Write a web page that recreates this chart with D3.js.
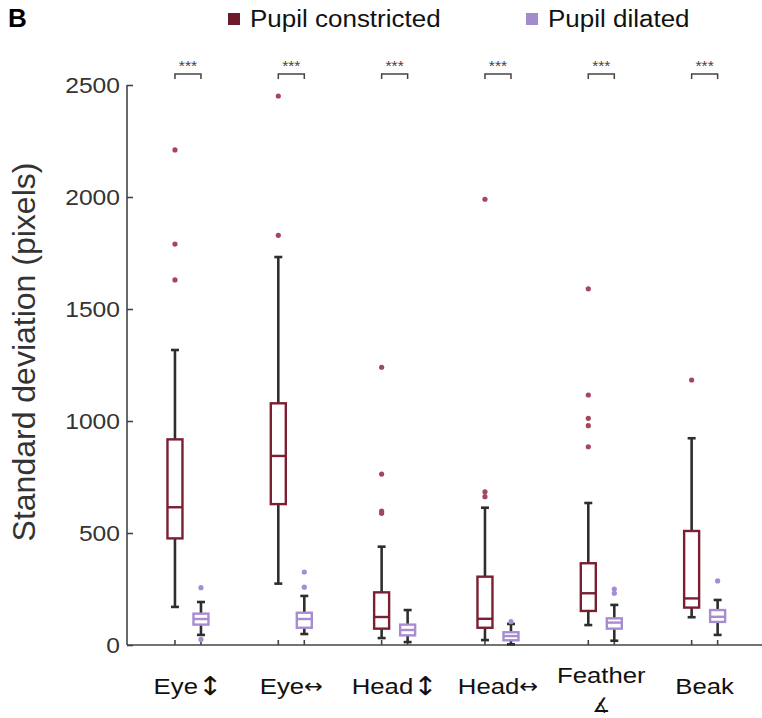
<!DOCTYPE html>
<html>
<head>
<meta charset="utf-8">
<script src="https://cdn.jsdelivr.net/npm/d3@7/dist/d3.min.js"></script>
<style>
  body { margin: 0; background: #fff; }
  svg { display: block; font-family: "Liberation Sans", Arial, sans-serif; }
</style>
</head>
<body>
<svg id="chart" width="762" height="718"></svg>
<script>
const categories = ["Eye↕", "Eye↔", "Head↕", "Head↔", "Feather", "Beak"];
const categoryWords = ["Eye", "Eye", "Head", "Head", "Feather", "Beak"];
const categorySymbols = ["↕", "↔", "↕", "↔", "∡", ""];
const seriesNames = ["Pupil constricted", "Pupil dilated"];
const yTicks = [0, 500, 1000, 1500, 2000, 2500];

// [lowerWhisker, q1, median, q3, upperWhisker]
const constrictedStats = [
  [170, 476, 615, 918, 1317],
  [274, 629, 844, 1079, 1732],
  [31, 73, 125, 235, 439],
  [22, 77, 117, 305, 613],
  [89, 152, 231, 365, 634],
  [124, 167, 208, 509, 923]
];
const constrictedOutliers = [
  [1630, 1790, 2210],
  [1829, 2451],
  [588, 598, 763, 1240],
  [662, 684, 1990],
  [885, 979, 1012, 1116, 1590],
  [1183]
];
const dilatedStats = [
  [45, 91, 116, 140, 192],
  [49, 77, 116, 144, 219],
  [13, 43, 67, 91, 156],
  [3, 21, 40, 57, 94],
  [19, 73, 100, 119, 179],
  [45, 103, 126, 156, 201]
];
const dilatedOutliers = [
  [25, 256],
  [258, 326],
  [],
  [104],
  [231, 250],
  [286]
];
const significance = ["***", "***", "***", "***", "***", "***"];

const svg = d3.select("#chart");
const x0 = 127, yTop = 85, yBot = 645;
const y = d3.scaleLinear().domain([0, 2500]).range([yBot, yTop]);
const xBand = d3.scaleBand().domain(categories).range([136.3, 756.3]).padding(0);
const xSub = d3.scalePoint().domain(seriesNames).range([-13, 13]);
const SX = 1.12; // horizontal stretch of the original figure's text

const colors = {
  "Pupil constricted": { box: "#7b1f32", dot: "#a3475a", legend: "#6f1a2a" },
  "Pupil dilated": { box: "#a88cd2", dot: "#a68cd4", legend: "#a48ccc" }
};
const whiskerColor = "#2e2e2e";
const textColor = "#333";

// Axes
const yAxis = d3.axisLeft(y).tickValues(yTicks).tickSize(-6).tickPadding(0).tickFormat(d3.format("d"));
const gy = svg.append("g").attr("transform", `translate(${x0},0)`).call(yAxis);
gy.select(".domain").attr("stroke", "#444").attr("stroke-width", 1.6).attr("d", `M0,${yTop}V${yBot}`);
gy.selectAll(".tick line").attr("stroke", "#444").attr("stroke-width", 1.6);
gy.selectAll(".tick text").attr("fill", textColor).style("font-size", "22px")
  .attr("x", null).attr("dy", "0.36em")
  .attr("transform", `translate(-7,0) scale(${SX},1)`);

// x axis line with ticks at each box position
const positions = [];
categories.forEach(c => seriesNames.forEach(s => positions.push(xBand(c) + xBand.bandwidth() / 2 + xSub(s))));
svg.append("line").attr("x1", x0).attr("x2", 762).attr("y1", yBot).attr("y2", yBot)
  .attr("stroke", "#444").attr("stroke-width", 1.6);
svg.selectAll(".xtick").data(positions).enter().append("line")
  .attr("x1", d => d).attr("x2", d => d).attr("y1", yBot).attr("y2", yBot - 5)
  .attr("stroke", "#444").attr("stroke-width", 1.6);

// Boxes
const boxW = 15, capW = 8;
function drawSeries(name, stats, outliers) {
  const col = colors[name];
  categories.forEach((c, i) => {
    const cx = xBand(c) + xBand.bandwidth() / 2 + xSub(name);
    const [lw, q1, med, q3, uw] = stats[i];
    const g = svg.append("g");
    g.append("line").attr("x1", cx).attr("x2", cx).attr("y1", y(q3)).attr("y2", y(uw))
      .attr("stroke", whiskerColor).attr("stroke-width", 2.6);
    g.append("line").attr("x1", cx).attr("x2", cx).attr("y1", y(q1)).attr("y2", y(lw))
      .attr("stroke", whiskerColor).attr("stroke-width", 2.6);
    [lw, uw].forEach(v => g.append("line").attr("x1", cx - capW / 2).attr("x2", cx + capW / 2)
      .attr("y1", y(v)).attr("y2", y(v)).attr("stroke", whiskerColor).attr("stroke-width", 2.6));
    g.append("rect").attr("x", cx - boxW / 2).attr("width", boxW)
      .attr("y", y(q3)).attr("height", y(q1) - y(q3))
      .attr("fill", "#fff").attr("stroke", col.box).attr("stroke-width", 2.4);
    g.append("line").attr("x1", cx - boxW / 2).attr("x2", cx + boxW / 2)
      .attr("y1", y(med)).attr("y2", y(med)).attr("stroke", col.box).attr("stroke-width", 2.4);
    g.selectAll("circle").data(outliers[i]).enter().append("circle")
      .attr("cx", cx).attr("cy", d => y(d)).attr("r", 2.6).attr("fill", col.dot);
  });
}
drawSeries("Pupil constricted", constrictedStats, constrictedOutliers);
drawSeries("Pupil dilated", dilatedStats, dilatedOutliers);

// Significance brackets
categories.forEach((c, i) => {
  const a = xBand(c) + xBand.bandwidth() / 2 + xSub(seriesNames[0]);
  const b = xBand(c) + xBand.bandwidth() / 2 + xSub(seriesNames[1]);
  svg.append("path").attr("d", `M${a},79V74H${b}V79`).attr("fill", "none")
    .attr("stroke", "#444").attr("stroke-width", 1.5);
  svg.append("text").attr("transform", `translate(${(a + b) / 2},71) scale(${SX},1)`)
    .attr("text-anchor", "middle")
    .attr("fill", "#444").style("font-size", "14px").text(significance[i]);
});

// X labels
categories.forEach((c, i) => {
  const cx = xBand(c) + xBand.bandwidth() / 2;
  const word = categoryWords[i], sym = categorySymbols[i];
  if (sym === "∡") {
    svg.append("text").attr("transform", `translate(${cx},683) scale(${SX},1)`).attr("text-anchor", "middle")
      .attr("fill", "#111").style("font-size", "23px").text(word);
    svg.append("text").attr("transform", `translate(${cx},712)`).attr("text-anchor", "middle")
      .attr("fill", "#111").style("font-size", "20px").style("font-family", "DejaVu Sans").text(sym);
  } else {
    const t = svg.append("text").attr("transform", `translate(${cx},694) scale(${SX},1)`)
      .attr("text-anchor", "middle").attr("fill", "#111").style("font-size", "23px");
    t.append("tspan").text(word);
    if (sym) {
      t.append("tspan").style("font-family", "DejaVu Sans")
        .style("font-size", sym === "↕" ? "26px" : "20px").attr("dy", sym === "↕" ? "1" : "-1").text(sym);
    }
  }
});

// Y title
svg.append("text").attr("transform", `translate(35,352) rotate(-90)`)
  .attr("text-anchor", "middle").attr("fill", textColor).style("font-size", "32px")
  .text("Standard deviation (pixels)");

// Panel letter
svg.append("text").attr("x", 8).attr("y", 27).attr("fill", "#000")
  .style("font-size", "26px").style("font-weight", "bold").text("B");

// Legend
const legendX = [228, 526];
seriesNames.forEach((s, i) => {
  svg.append("rect").attr("x", legendX[i]).attr("y", 13).attr("width", 12).attr("height", 12)
    .attr("fill", colors[s].legend);
  svg.append("text").attr("transform", `translate(${legendX[i] + 22},27) scale(1.13,1)`).attr("fill", "#111")
    .style("font-size", "23px").text(s);
});
</script>
</body>
</html>
